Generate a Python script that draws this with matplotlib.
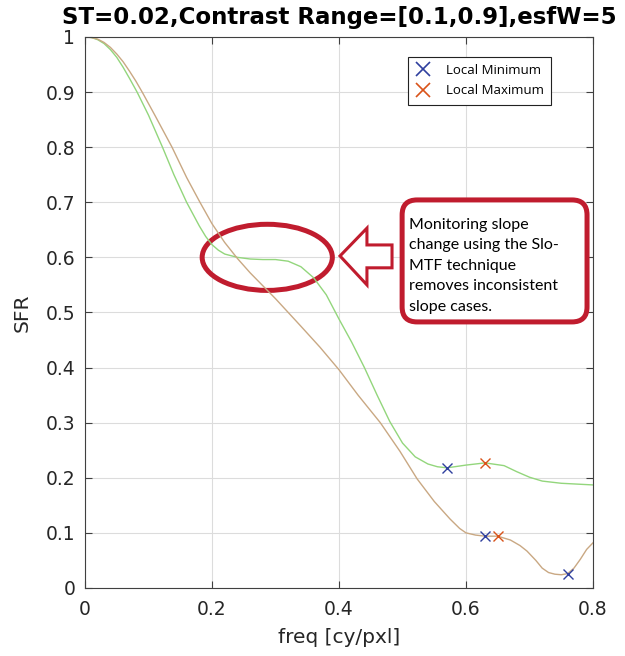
import matplotlib
matplotlib.use('Agg')
import matplotlib.pyplot as plt
from matplotlib.patches import Ellipse, Polygon, FancyBboxPatch
from matplotlib.lines import Line2D

# curve (green = Slo-MTF, tan = plain)
green_x = [0, 0.01, 0.02, 0.03, 0.04, 0.05, 0.06, 0.07, 0.082, 0.10, 0.122, 0.14, 0.16,
           0.18, 0.19, 0.20, 0.21, 0.22, 0.24, 0.26, 0.28, 0.30, 0.32, 0.34, 0.36, 0.38,
           0.40, 0.42, 0.44, 0.46, 0.48, 0.50, 0.52, 0.54, 0.555, 0.57, 0.60, 0.63, 0.66,
           0.68, 0.70, 0.72, 0.75, 0.80]
green_y = [1.0, 0.999, 0.995, 0.988, 0.977, 0.963, 0.945, 0.925, 0.90, 0.858, 0.80, 0.75,
           0.70, 0.657, 0.638, 0.623, 0.613, 0.606, 0.600, 0.597, 0.596, 0.596, 0.593, 0.583,
           0.563, 0.532, 0.488, 0.446, 0.400, 0.350, 0.302, 0.263, 0.238, 0.225, 0.220, 0.218,
           0.223, 0.227, 0.222, 0.211, 0.201, 0.194, 0.190, 0.187]

tan_x = [0, 0.01, 0.02, 0.03, 0.04, 0.05, 0.06, 0.07, 0.08, 0.091, 0.11, 0.137, 0.16, 0.181,
         0.20, 0.22, 0.24, 0.26, 0.30, 0.34, 0.37, 0.40, 0.43, 0.465, 0.496, 0.523, 0.55,
         0.575, 0.59, 0.60, 0.615, 0.63, 0.65, 0.67, 0.685, 0.696, 0.71, 0.72, 0.73, 0.74,
         0.75, 0.76, 0.77, 0.78, 0.79, 0.80]
tan_y = [1.0, 0.999, 0.996, 0.99, 0.981, 0.969, 0.955, 0.938, 0.92, 0.898, 0.858, 0.80,
         0.745, 0.70, 0.661, 0.627, 0.598, 0.572, 0.525, 0.475, 0.437, 0.396, 0.35, 0.30,
         0.248, 0.198, 0.157, 0.125, 0.108, 0.100, 0.096, 0.094, 0.094, 0.087, 0.077, 0.067,
         0.05, 0.036, 0.028, 0.025, 0.024, 0.026, 0.036, 0.052, 0.07, 0.082]

min_x = [0.57, 0.63, 0.76]
min_y = [0.218, 0.094, 0.026]
max_x = [0.63, 0.65]
max_y = [0.227, 0.094]

xticks = [0, 0.2, 0.4, 0.6, 0.8]
yticks = [0, 0.1, 0.2, 0.3, 0.4, 0.5, 0.6, 0.7, 0.8, 0.9, 1]

note = "Monitoring slope\nchange using the Slo-\nMTF technique\nremoves inconsistent\nslope cases."

red = '#c01c2e'
blue = '#2f3f9e'
orange = '#d95319'
axcol = '#404040'

fig = plt.figure(figsize=(6.25, 6.56), dpi=100)
ax = fig.add_axes([0.136, 0.1037, 0.8128, 0.84])

ax.plot(green_x, green_y, color='#93d67c', lw=1.0)
ax.plot(tan_x, tan_y, color='#c9a883', lw=1.0)
ax.plot(min_x, min_y, 'x', color=blue, ms=7, mew=1.0)
ax.plot(max_x, max_y, 'x', color=orange, ms=7, mew=1.0)

ax.set_xlim(0, 0.8)
ax.set_ylim(0, 1)
ax.set_xticks(xticks)
ax.set_xticklabels(['0', '0.2', '0.4', '0.6', '0.8'])
ax.set_yticks(yticks)
ax.set_yticklabels(['0', '0.1', '0.2', '0.3', '0.4', '0.5', '0.6', '0.7', '0.8', '0.9', '1'])
ax.grid(True, color='#dcdcdc', lw=0.8)
ax.set_axisbelow(True)
ax.tick_params(direction='in', top=True, right=True, length=5, width=0.8,
               color=axcol, labelsize=13.5, labelcolor='#262626')
ax.tick_params(axis='x', pad=9)
ax.tick_params(axis='y', pad=7)
for s in ax.spines.values():
    s.set_color(axcol)
    s.set_linewidth(0.8)

ax.set_xlabel('freq [cy/pxl]', fontsize=14.5, color='#262626', labelpad=6)
ax.set_ylabel('SFR', fontsize=14.5, color='#262626', labelpad=10)
ax.set_title('ST=0.02,Contrast Range=[0.1,0.9],esfW=5', fontsize=16.5,
             fontweight='bold', pad=9)

# legend
handles = [Line2D([], [], ls='', marker='x', color=blue, ms=10, mew=1.2),
           Line2D([], [], ls='', marker='x', color=orange, ms=10, mew=1.2)]
leg = ax.legend(handles, ['Local Minimum', 'Local Maximum'], loc='upper left',
                bbox_to_anchor=(0.636, 0.964), borderaxespad=0, fancybox=False,
                framealpha=1, edgecolor='#222222', handlelength=1.2, handletextpad=1.1,
                borderpad=0.55, labelspacing=0.55, prop={'family': 'Open Sans', 'size': 9.5})
leg.get_frame().set_linewidth(0.8)

# red ellipse around the plateau
ax.add_patch(Ellipse((0.287, 0.60), 0.205, 0.12, fill=False, ec=red, lw=3.6, clip_on=False))

# hollow arrow pointing at the ellipse
arrow_pts = [(0.4016, 0.6025), (0.444, 0.653), (0.444, 0.6225), (0.4835, 0.6225),
             (0.4835, 0.581), (0.444, 0.581), (0.444, 0.550)]
ax.add_patch(Polygon(arrow_pts, closed=True, fc='white', ec=red, lw=2.2, joinstyle='miter'))

# rounded note box
ax.add_patch(FancyBboxPatch((0.523, 0.51), 0.244, 0.167,
                            boxstyle='round,pad=0.0236,rounding_size=0.0236',
                            mutation_aspect=1.152, fc='white', ec=red, lw=3.6, zorder=5))
ax.text(0.511, 0.672, note, fontsize=11.5, family='Lato', va='top', ha='left',
        linespacing=1.6, zorder=6)

fig.savefig('out.png', dpi=100)
